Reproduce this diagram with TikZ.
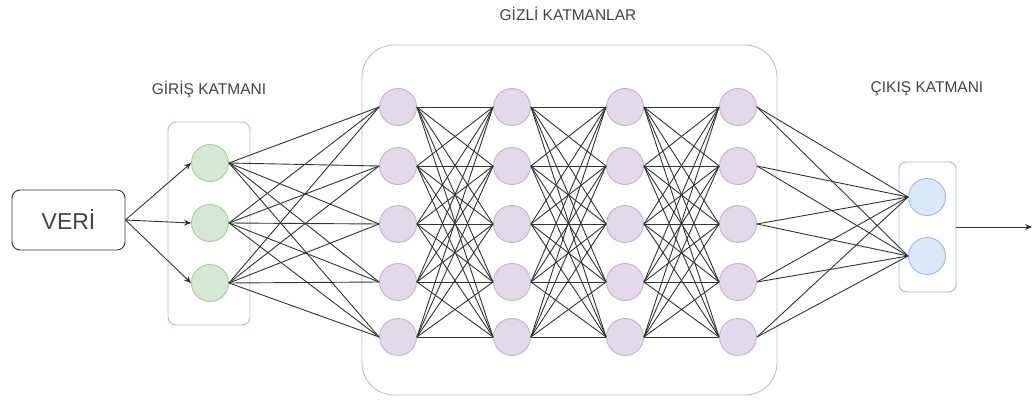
\documentclass[tikz,border=0pt]{standalone}
\usepackage{fontspec}
\setmainfont{Liberation Sans}
\usetikzlibrary{arrows.meta}
\definecolor{txt}{HTML}{444444}
\definecolor{gfill}{HTML}{D5E8D4}
\definecolor{gline}{HTML}{A9CB9B}
\definecolor{pfill}{HTML}{E3D9EA}
\definecolor{pline}{HTML}{C2B3CF}
\definecolor{bfill}{HTML}{DAE8FC}
\definecolor{bline}{HTML}{A4B8D4}
\definecolor{edge}{HTML}{333333}
\tikzset{
  neuron/.style={circle, minimum size=37pt, inner sep=0pt, line width=0.9pt},
  inneuron/.style={neuron, fill=gfill, draw=gline},
  hidneuron/.style={neuron, fill=pfill, draw=pline},
  outneuron/.style={neuron, fill=bfill, draw=bline},
  layerlabel/.style={text=txt, font=\fontsize{15.5}{18}\selectfont, inner sep=0pt},
  conn/.style={draw=edge, line width=0.9pt},
  arr/.style={draw=edge, line width=0.9pt, -{Stealth[length=7pt,width=6pt]}},
}
\begin{document}
\begin{tikzpicture}[x=1pt,y=-1pt]
\useasboundingbox (0,0) rectangle (1035,401);
% frames
\draw[gline, line width=0.9pt, rounded corners=8pt] (168,122) rectangle (250,325);
\draw[black!25, line width=0.9pt, rounded corners=32pt] (362,45) rectangle (777,395);
\draw[bline, line width=0.9pt, rounded corners=7pt] (899,162) rectangle (956,292);
% data box
\node[draw=edge, line width=0.9pt, rounded corners=8pt, minimum width=113pt, minimum height=60pt, text=txt, font=\fontsize{23}{27}\selectfont] (veri) at (68.5,220) {VERİ};
% labels
\node[layerlabel] (lin) at (209,89) {GİRİŞ KATMANI};
\node[layerlabel] (lhid) at (568,14) {GİZLİ KATMANLAR};
\node[layerlabel] (lout) at (927,89) {ÇIKIŞ KATMANI};
% input nodes
\foreach \i/\y in {1/163,2/223,3/283} \node[inneuron] (i\i) at (210,\y) {};
% hidden nodes
\foreach \c/\x in {1/398,2/512,3/625,4/738}
  \foreach \r/\y in {1/107,2/166,3/224,4/282,5/337}
    \node[hidneuron] (h\c\r) at (\x,\y) {};
% output nodes
\foreach \o/\y in {1/197,2/256} \node[outneuron] (o\o) at (927,\y) {};
\coordinate (end) at (1032,227);
% connectors
\foreach \i in {1,2,3} \draw[arr] (veri.east) -- (i\i.west);
\foreach \i in {1,2,3} \foreach \r in {1,...,5} \draw[conn] (i\i.east) -- (h1\r.west);
\foreach \c/\n in {1/2,2/3,3/4}
  \foreach \a in {1,...,5} \foreach \b in {1,...,5}
    \draw[conn] (h\c\a.east) -- (h\n\b.west);
\foreach \a in {1,...,5} \foreach \o in {1,2} \draw[conn] (h4\a.east) -- (o\o.west);
\draw[arr] (956,227) -- (end);
\end{tikzpicture}
\end{document}
